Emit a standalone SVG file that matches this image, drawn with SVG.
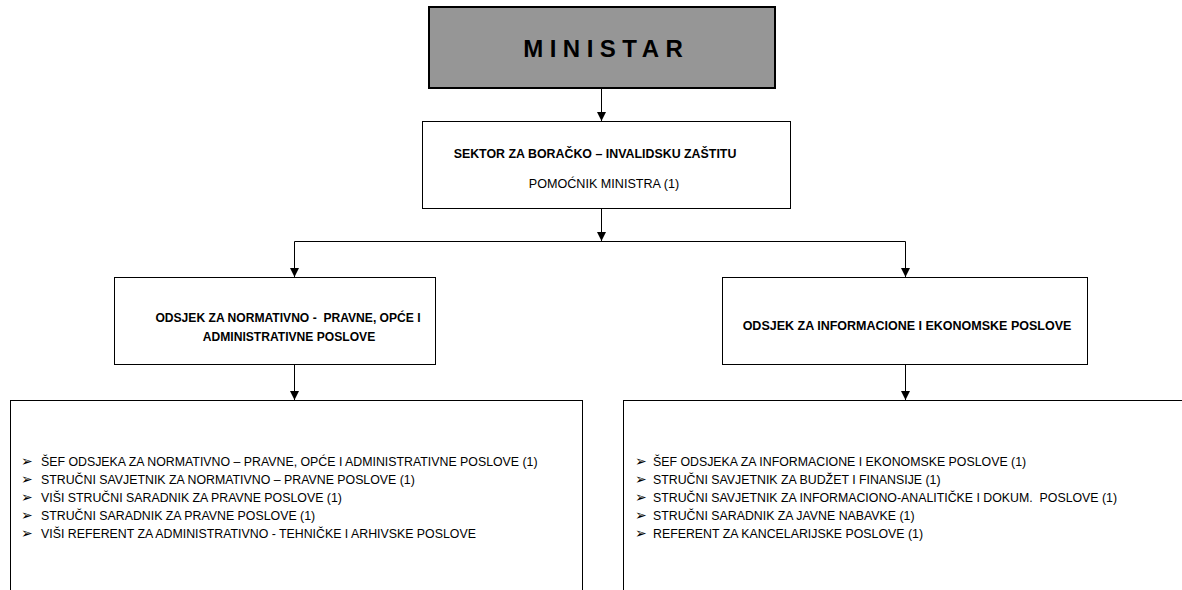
<svg xmlns="http://www.w3.org/2000/svg" width="1182" height="590" viewBox="0 0 1182 590">
<style>
.box{fill:#ffffff;stroke:#000000;stroke-width:1}
.boss{fill:#969696;stroke:#000000;stroke-width:2}
.con{fill:none;stroke:#000000;stroke-width:1}
.t{font-family:"Liberation Sans",Arial,sans-serif;fill:#000000}
.b{font-weight:bold}
.r{font-size:12.35px}
.bul{font-family:"DejaVu Sans",sans-serif;font-size:14px;fill:#000000}
.big{font-family:"Liberation Sans",Arial,sans-serif;font-weight:bold;font-size:24px;letter-spacing:6.5px;fill:#000000}
</style>
<defs>
<marker id="arr" markerUnits="userSpaceOnUse" markerWidth="9" markerHeight="9" refX="9" refY="4.5" orient="auto">
<path d="M0,0 L9,4.5 L0,9 Z" fill="#000000"/>
</marker>
</defs>
<rect width="1182" height="590" fill="#ffffff"/>
<g id="connectors">
<path class="con" d="M601.5 88 V121" marker-end="url(#arr)"/>
<path class="con" d="M601.5 209 V241" marker-end="url(#arr)"/>
<path class="con" d="M294.5 241.5 H905.5"/>
<path class="con" d="M294.5 241.5 V277" marker-end="url(#arr)"/>
<path class="con" d="M905.5 241.5 V277" marker-end="url(#arr)"/>
<path class="con" d="M294.5 365 V400" marker-end="url(#arr)"/>
<path class="con" d="M905.5 365 V400" marker-end="url(#arr)"/>
</g>
<g id="ministar">
<rect class="boss" x="429" y="7" width="346" height="81"/>
<text class="big" x="606.25" y="56.5" text-anchor="middle">MINISTAR</text>
</g>
<g id="sektor">
<rect class="box" x="422.5" y="121.5" width="368" height="87"/>
<text class="t b" x="595" y="158" font-size="12.4" text-anchor="middle">SEKTOR ZA BORAČKO – INVALIDSKU ZAŠTITU</text>
<text class="t" x="604" y="188" font-size="12.6" text-anchor="middle">POMOĆNIK MINISTRA (1)</text>
</g>
<g id="odsjek-normativno">
<rect class="box" x="114.5" y="277.5" width="321" height="87"/>
<text class="t b" x="288" y="322" font-size="12.1" text-anchor="middle" xml:space="preserve">ODSJEK ZA NORMATIVNO -  PRAVNE, OPĆE I</text>
<text class="t b" x="289" y="340.5" font-size="12.1" text-anchor="middle">ADMINISTRATIVNE POSLOVE</text>
</g>
<g id="odsjek-informacione">
<rect class="box" x="722.5" y="277.5" width="365" height="87"/>
<text class="t b" x="907" y="330" font-size="12.5" text-anchor="middle">ODSJEK ZA INFORMACIONE I EKONOMSKE POSLOVE</text>
</g>
<g id="lista-normativno">
<rect class="box" x="10.5" y="400.5" width="572" height="220"/>
<text class="bul" x="21" y="466">➢</text>
<text class="bul" x="21" y="484">➢</text>
<text class="bul" x="21" y="502">➢</text>
<text class="bul" x="21" y="520">➢</text>
<text class="bul" x="21" y="538">➢</text>
<text class="t r" x="41" y="466">ŠEF ODSJEKA ZA NORMATIVNO – PRAVNE, OPĆE I ADMINISTRATIVNE POSLOVE (1)</text>
<text class="t r" x="41" y="484">STRUČNI SAVJETNIK ZA NORMATIVNO – PRAVNE POSLOVE (1)</text>
<text class="t r" x="41" y="502">VIŠI STRUČNI SARADNIK ZA PRAVNE POSLOVE (1)</text>
<text class="t r" x="41" y="520">STRUČNI SARADNIK ZA PRAVNE POSLOVE (1)</text>
<text class="t r" x="41" y="538">VIŠI REFERENT ZA ADMINISTRATIVNO - TEHNIČKE I ARHIVSKE POSLOVE</text>
</g>
<g id="lista-informacione">
<rect class="box" x="623.5" y="400.5" width="620" height="220"/>
<text class="bul" x="635" y="466">➢</text>
<text class="bul" x="635" y="484">➢</text>
<text class="bul" x="635" y="502">➢</text>
<text class="bul" x="635" y="520">➢</text>
<text class="bul" x="635" y="538">➢</text>
<text class="t r" x="653" y="466">ŠEF ODSJEKA ZA INFORMACIONE I EKONOMSKE POSLOVE (1)</text>
<text class="t r" x="653" y="484">STRUČNI SAVJETNIK ZA BUDŽET I FINANSIJE (1)</text>
<text class="t r" x="653" y="502" xml:space="preserve">STRUČNI SAVJETNIK ZA INFORMACIONO-ANALITIČKE I DOKUM.  POSLOVE (1)</text>
<text class="t r" x="653" y="520">STRUČNI SARADNIK ZA JAVNE NABAVKE (1)</text>
<text class="t r" x="653" y="538">REFERENT ZA KANCELARIJSKE POSLOVE (1)</text>
</g>
</svg>
